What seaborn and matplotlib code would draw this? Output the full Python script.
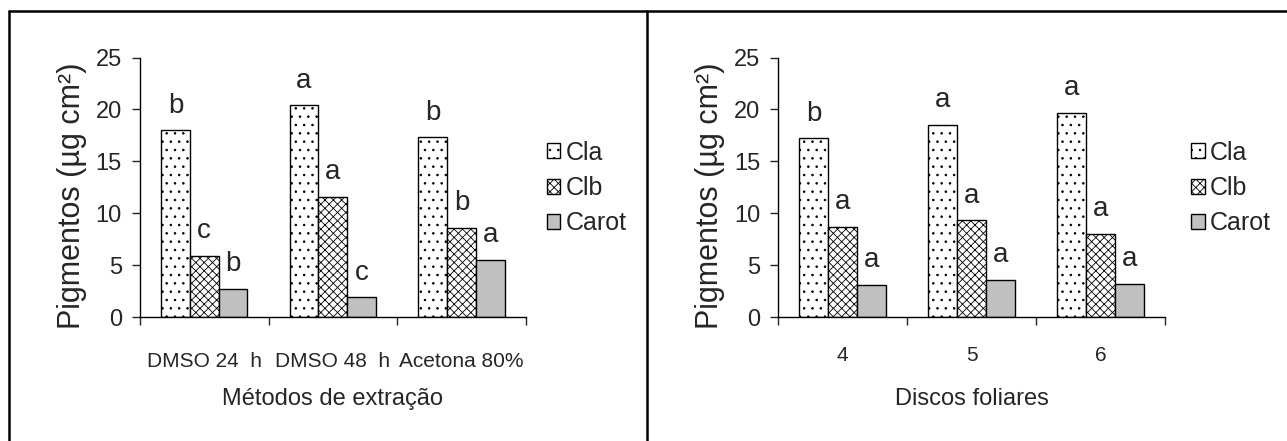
import numpy as np
import pandas as pd
import matplotlib.pyplot as plt
import seaborn as sns
from matplotlib.lines import Line2D

# dados
pigmentos = ['Cla', 'Clb', 'Carot']

metodos = ['DMSO 24  h', 'DMSO 48  h', 'Acetona 80%']
metodos_cla = [18.0, 20.4, 17.3]
metodos_clb = [5.9, 11.6, 8.6]
metodos_carot = [2.7, 1.9, 5.5]
metodos_letras = [['b', 'a', 'b'], ['c', 'a', 'b'], ['b', 'c', 'a']]

discos = ['4', '5', '6']
discos_cla = [17.2, 18.5, 19.7]
discos_clb = [8.7, 9.3, 8.0]
discos_carot = [3.1, 3.6, 3.2]
discos_letras = [['b', 'a', 'a'], ['a', 'a', 'a'], ['a', 'a', 'a']]

sns.set_theme(style='white')
plt.rcParams['font.family'] = ['Liberation Sans', 'DejaVu Sans']
plt.rcParams['hatch.linewidth'] = 0.6


def painel(ax, grupos, cla, clb, carot, letras, xlabel, leg_x, tick_pad):
    df = pd.DataFrame({
        'grupo': grupos * 3,
        'pigmento': np.repeat(pigmentos, len(grupos)),
        'valor': cla + clb + carot,
    })
    sns.barplot(data=df, x='grupo', y='valor', hue='pigmento', order=grupos,
                hue_order=pigmentos, palette=['white', 'white', '#c0c0c0'],
                width=0.672, gap=0, saturation=1, edgecolor='black',
                linewidth=1, legend=False, ax=ax)

    for cont, h in zip(ax.containers, ['..', 'xxxx', None]):
        for bar in cont:
            bar.set_hatch(h)

    # letras de comparacao das medias
    for cont, lets in zip(ax.containers, letras):
        for bar, l in zip(cont, lets):
            ax.text(bar.get_x() + bar.get_width() / 2, bar.get_height() + 1.7, l,
                    ha='center', va='baseline', fontsize=20)

    ax.set_xlim(-0.5, 2.5)
    ax.set_ylim(0, 25)
    ax.set_yticks([0, 5, 10, 15, 20, 25])
    ax.set_xticks([0, 1, 2], grupos)
    ax.set_xticks([-0.5, 0.5, 1.5, 2.5], minor=True)
    ax.tick_params(axis='x', which='major', length=0, pad=tick_pad, labelsize=15)
    ax.tick_params(axis='x', which='minor', length=6, width=1, direction='out', bottom=True)
    ax.tick_params(axis='y', length=6, width=1, direction='out', left=True, pad=7, labelsize=17)
    for s in ['top', 'right']:
        ax.spines[s].set_visible(False)
    for s in ['left', 'bottom']:
        ax.spines[s].set_color('black')
        ax.spines[s].set_linewidth(1)

    ax.set_xlabel(xlabel, fontsize=17)
    ax.xaxis.set_label_coords(0.5, -0.275)
    ax.set_ylabel('Pigmentos (µg cm²)', fontsize=22)
    ax.yaxis.set_label_coords(-0.137, 0.466)

    ax.legend(ax.containers, pigmentos, loc='center left', bbox_to_anchor=(leg_x, 0.497),
              frameon=False, fontsize=18, handlelength=0.55, handleheight=0.55,
              handletextpad=0.2, labelspacing=0.45, borderpad=0, borderaxespad=0)


fig = plt.figure(figsize=(12.87, 4.41), dpi=100)
ax1 = fig.add_axes([140 / 1287, 1 - 317 / 441, 385.7 / 1287, 259.5 / 441])
ax2 = fig.add_axes([778.3 / 1287, 1 - 317 / 441, 386.7 / 1287, 259.5 / 441])

painel(ax1, metodos, metodos_cla, metodos_clb, metodos_carot, metodos_letras,
       'Métodos de extração', 1.054, 25)
painel(ax2, discos, discos_cla, discos_clb, discos_carot, discos_letras,
       'Discos foliares', 1.067, 21)

# moldura dos dois paineis
top = 1 - 11 / 441
for xp in [8.5 / 1287, 646.5 / 1287]:
    fig.add_artist(Line2D([xp, xp], [0, top], transform=fig.transFigure, color='black', lw=1.8))
fig.add_artist(Line2D([8.5 / 1287, 1], [top, top], transform=fig.transFigure, color='black', lw=1.8))

fig.savefig('out.png', dpi=100)
